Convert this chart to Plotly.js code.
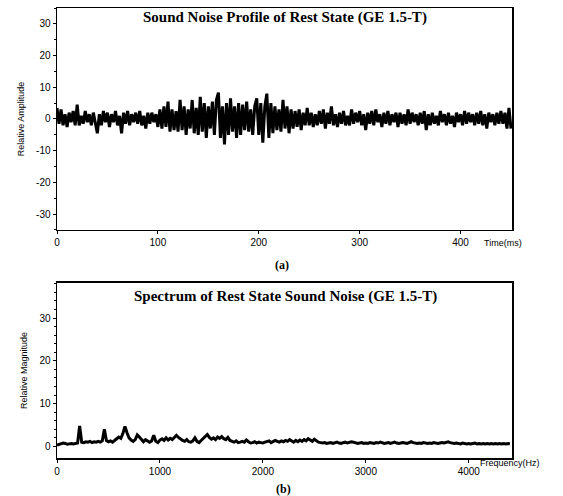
<!DOCTYPE html>
<html>
<head>
<meta charset="utf-8">
<script src="https://cdn.plot.ly/plotly-3.0.1.min.js"></script>
<style>html,body{margin:0;padding:0;background:#fff;}#chart{width:563px;height:496px;}</style>
</head>
<body>
<div id="chart"></div>
<script>
// Time signal: sampled every 2 ms, 0..450 ms
const timeStep = 2;
const amplitude = [
 3.5, -1.5, 3, -2, 1.5, -2.5, 2, -1, 2.5, -2,
 4.5, -2, 1, -1.5, 2.5, -1, 1.5, -2, 2, -1,
 -4.5, 1.5, -2, 2.5, -1, 2, -2.5, 1.5, -1, 2.5,
 -2, 1, -4.5, 2, -1.5, 2.5, -2, 1.5, -1, 2,
 -1.5, 2.5, -2, 1, -3, 2, -1.5, 2, -1, 1.5,
 -2.5, 3, -3, 4, -2.5, 5.5, -4, 3, -3.5, 2.5,
 -4, 6, -3.5, 4, -5, 3, -3, 6, -4.5, 3.5,
 -5, 7, -4, 5, -6, 4, -3, 5.5, -5, 6,
 8.3, -6, 4, -8, 5, -5, 6.5, -4, 4, -6,
 5, -5, 4.5, -3.5, 5.5, -4, 3, -5, 4, 6.5,
 -5, 5, -7.5, 4, 8, -6, 5, -4.5, 4, -3.5,
 3, -4, 6, -3, 4, -4.5, 3, -3, 2.5, -2.5,
 3, -3.5, 2, -2, 3.5, -2, 2, -2.5, 1.5, -2,
 2.5, -1.5, 3, -3, 2, -1.5, 4, -2, 1.5, -2.5,
 2, -1.5, 2.5, -2, 1, -2, 3, -1.5, 2, -1,
 2.5, -2, 1.5, -3.5, 2, -1.5, 2.5, -2, 3, -1,
 1.5, -2.5, 2, -1.5, 2.5, -2, 1.5, -1, 2, -2.5,
 2, -1.5, 1.5, -2, 3, -1.5, 2, -1, 1.5, -2,
 2, -1.5, 2.5, -3.5, 1.5, -2, 2, -1.5, 1, -2,
 2.5, -1, 1.5, -2, 2, -1.5, 1, -2.5, 2, -1,
 1.5, -2, 2.5, -1.5, 2, -1, 1.5, -2, 2, -1.5,
 2.5, -2, 1.5, -3, 2, -1, 1.5, -2, 2, -1.5,
 2.5, -1.5, 2, -3, 3.5, -3
];
// Spectrum: sampled every 20 Hz, 0..4400 Hz
const freqStep = 20;
const magnitude = [
 0.3, 0.5, 0.6, 0.8, 0.7, 0.5, 0.6, 0.7, 0.6, 0.7,
 0.8, 4.8, 1.0, 0.9, 1.1, 1.0, 1.2, 0.9, 1.1, 1.0,
 1.2, 1.0, 1.3, 4.0, 1.4, 1.1, 1.3, 1.0, 1.5, 1.8,
 2.2, 1.9, 3.0, 4.7, 3.2, 2.0, 1.5, 1.2, 1.6, 2.7,
 2.2, 1.5, 1.1, 1.6, 1.3, 1.0, 1.3, 2.6, 1.2, 0.9,
 1.5, 1.8, 1.4, 2.0, 1.5, 1.9, 1.6, 2.2, 2.6, 2.1,
 1.7, 1.4, 1.2, 1.6, 1.1, 1.0, 1.3, 2.0, 1.2, 0.9,
 1.4, 1.8, 2.2, 2.8, 2.1, 1.7, 2.0, 1.6, 2.2, 1.9,
 2.3, 1.8, 1.6, 2.1, 1.4, 1.2, 1.0, 1.3, 0.9, 1.0,
 1.2, 1.0, 1.5, 1.1, 0.8, 0.9, 1.1, 0.8, 1.0, 0.9,
 0.8, 1.0, 1.1, 1.3, 0.9, 1.1, 1.4, 1.2, 1.0, 1.3,
 1.1, 1.4, 1.2, 1.6, 1.3, 1.0, 1.4, 1.1, 1.5, 1.2,
 1.6, 1.3, 1.8, 1.4, 1.2, 1.7, 1.3, 1.0, 0.9, 0.8,
 0.9, 0.7, 0.8, 0.9, 0.7, 0.8, 1.0, 0.8, 0.7, 0.9,
 1.0, 0.8, 0.9, 1.1, 1.0, 0.8, 0.7, 0.8, 0.9, 0.7,
 0.8, 0.7, 0.9, 0.8, 0.7, 0.9, 0.8, 1.0, 0.8, 0.7,
 0.8, 0.9, 0.7, 0.8, 1.0, 0.8, 0.7, 0.8, 0.9, 0.8,
 0.7, 0.9, 1.1, 0.9, 0.8, 0.7, 0.8, 0.7, 0.9, 0.8,
 0.7, 0.8, 0.7, 0.9, 0.8, 0.7, 0.8, 0.9, 0.8, 1.0,
 1.1, 0.9, 0.8, 0.7, 0.8, 0.7, 0.6, 0.8, 0.7, 0.6,
 0.7, 0.6, 0.7, 0.8, 0.6, 0.7, 0.6, 0.7, 0.6, 0.7,
 0.6, 0.7, 0.6, 0.7, 0.6, 0.7, 0.6, 0.7, 0.6, 0.7, 0.6
];
const timeTicks = [0, 100, 200, 300, 400];
const freqTicks = [0, 1000, 2000, 3000, 4000];
const ampTicks = [-30, -20, -10, 0, 10, 20, 30];
const magTicks = [0, 10, 20, 30];

const timeX = amplitude.map((_, i) => i * timeStep);
const freqX = magnitude.map((_, i) => i * freqStep);

const tickFont = {family: 'Liberation Sans, Arial, sans-serif', size: 10, color: '#000'};
const axisCommon = {
  showline: true, linecolor: '#000', linewidth: 1.5, mirror: true,
  showgrid: false, zeroline: false, ticks: 'outside', ticklen: 3, tickwidth: 1,
  tickcolor: '#000', tickfont: tickFont, fixedrange: true
};

const data = [
  {x: timeX, y: amplitude, type: 'scatter', mode: 'lines', line: {color: '#000', width: 3}, xaxis: 'x', yaxis: 'y', hoverinfo: 'none'},
  {x: freqX, y: magnitude, type: 'scatter', mode: 'lines', line: {color: '#000', width: 3}, xaxis: 'x2', yaxis: 'y2', hoverinfo: 'none'}
];

const titleFont = {family: 'Liberation Serif, Times New Roman, serif', size: 15, color: '#000', weight: 'bold'};
const labFont = {family: 'Liberation Sans, Arial, sans-serif', size: 9, color: '#000'};

const layout = {
  width: 563, height: 496,
  margin: {l: 57, r: 51, t: 8, b: 38},
  paper_bgcolor: '#fff', plot_bgcolor: '#fff',
  showlegend: false,
  xaxis: Object.assign({}, axisCommon, {domain: [0, 1], range: [0, 451], tickvals: timeTicks, ticktext: timeTicks.map(String), anchor: 'y'}),
  yaxis: Object.assign({}, axisCommon, {domain: [0.5067, 1], range: [-35, 35], tickvals: ampTicks, ticktext: ampTicks.map(String), anchor: 'x',
    minor: {ticks: 'outside', ticklen: 2, tickvals: [-35,-25,-15,-5,5,15,25,35], tickcolor: '#000'},
    title: {text: 'Relative Amplitude', font: labFont, standoff: 10}}),
  xaxis2: Object.assign({}, axisCommon, {domain: [0, 1], range: [0, 4420], tickvals: freqTicks, ticktext: freqTicks.map(String), anchor: 'y2'}),
  yaxis2: Object.assign({}, axisCommon, {domain: [0, 0.3889], range: [-2.7, 38.2], tickvals: magTicks, ticktext: magTicks.map(String), anchor: 'x2',
    minor: {ticks: 'outside', ticklen: 2, tickvals: [2,4,6,8,12,14,16,18,22,24,26,28,32,34,36,38], tickcolor: '#000'},
    title: {text: 'Relative Magnitude', font: labFont, standoff: 10}}),
  annotations: [
    {text: 'Sound Noise Profile of Rest State (GE 1.5-T)', xref: 'paper', yref: 'paper', x: 0.502, y: 0.978, xanchor: 'center', yanchor: 'middle', showarrow: false, font: titleFont},
    {text: 'Spectrum of Rest State Sound Noise (GE 1.5-T)', xref: 'paper', yref: 'paper', x: 0.502, y: 0.358, xanchor: 'center', yanchor: 'middle', showarrow: false, font: titleFont},
    {text: 'Time(ms)', xref: 'paper', yref: 'paper', x: 0.935, y: 0.478, xanchor: 'left', yanchor: 'middle', showarrow: false, font: labFont},
    {text: 'Frequency(Hz)', xref: 'paper', yref: 'paper', x: 0.926, y: -0.011, xanchor: 'left', yanchor: 'middle', showarrow: false, font: labFont},
    {text: '(a)', xref: 'paper', yref: 'paper', x: 0.495, y: 0.429, xanchor: 'center', yanchor: 'middle', showarrow: false, font: {family: 'Liberation Serif, serif', size: 12, color: '#000', weight: 'bold'}},
    {text: '(b)', xref: 'paper', yref: 'paper', x: 0.497, y: -0.069, xanchor: 'center', yanchor: 'middle', showarrow: false, font: {family: 'Liberation Serif, serif', size: 12, color: '#000', weight: 'bold'}}
  ]
};

Plotly.newPlot('chart', data, layout, {displayModeBar: false, staticPlot: true});
</script>
</body>
</html>
